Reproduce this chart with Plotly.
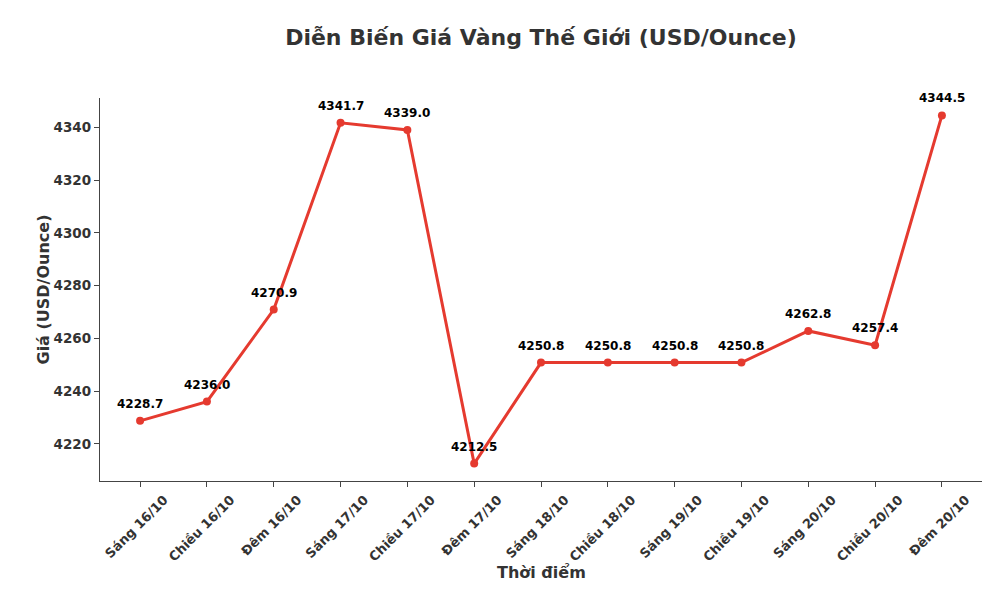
import plotly.graph_objects as go

categories = ["Sáng 16/10", "Chiều 16/10", "Đêm 16/10", "Sáng 17/10", "Chiều 17/10", "Đêm 17/10",
              "Sáng 18/10", "Chiều 18/10", "Sáng 19/10", "Chiều 19/10", "Sáng 20/10", "Chiều 20/10", "Đêm 20/10"]
prices = [4228.7, 4236.0, 4270.9, 4341.7, 4339.0, 4212.5,
          4250.8, 4250.8, 4250.8, 4250.8, 4262.8, 4257.4, 4344.5]
y_ticks = [4220, 4240, 4260, 4280, 4300, 4320, 4340]

FONT = "DejaVu Sans"
RED = "#e53a2f"
DARK = "#333333"

# page has an 8px body margin; figure is sized to fill the rest of the window
W, H = 992, 582

xs = list(range(len(categories)))
fig = go.Figure()
fig.add_trace(go.Scatter(
    x=xs, y=prices, mode="lines+markers",
    line=dict(color=RED, width=3),
    marker=dict(color=RED, size=8),
    hoverinfo="x+y",
))

for x, v in zip(xs, prices):
    fig.add_annotation(x=x, y=v, text=f"<b>{v:.1f}</b>", showarrow=False,
                       yshift=17, font=dict(family=FONT, size=12, color="black"))

# axis titles
fig.add_annotation(xref="paper", yref="paper", x=0.5, y=0, yanchor="middle", yshift=-91,
                   text="<b>Thời điểm</b>", showarrow=False,
                   font=dict(family=FONT, size=16, color=DARK))
fig.add_annotation(xref="paper", yref="paper", x=0, y=0.5, xanchor="center", xshift=-57,
                   text="<b>Giá (USD/Ounce)</b>", showarrow=False, textangle=-90,
                   font=dict(family=FONT, size=16, color=DARK))

lo, hi = min(prices), max(prices)
pad = (hi - lo) * 0.05
n = len(categories)

fig.update_layout(
    width=W, height=H,
    paper_bgcolor="white", plot_bgcolor="white",
    margin=dict(l=92, r=18, t=90, b=109),
    showlegend=False,
    title=dict(text="<b>Diễn Biến Giá Vàng Thế Giới (USD/Ounce)</b>",
               x=533 / W, xanchor="center", y=1 - 29 / H, yanchor="middle",
               font=dict(family=FONT, size=22, color=DARK)),
    font=dict(family=FONT, color=DARK),
)
fig.update_xaxes(
    automargin=False,
    range=[-0.6, n - 1 + 0.6],
    tickmode="array", tickvals=xs,
    ticktext=[f"<b>{c}</b>" for c in categories],
    tickangle=-45, tickfont=dict(family=FONT, size=13, color=DARK),
    ticklabelshift=24,
    ticks="outside", ticklen=5, tickcolor="#444", tickwidth=1,
    showline=True, linecolor="#444", linewidth=1.3,
    showgrid=False, zeroline=False,
)
fig.update_yaxes(
    automargin=False,
    range=[lo - pad, hi + pad],
    tickmode="array", tickvals=y_ticks,
    ticktext=[f"<b>{t}</b>" for t in y_ticks],
    tickfont=dict(family=FONT, size=13.5, color=DARK),
    ticks="outside", ticklen=5, tickcolor="#444", tickwidth=1,
    showline=True, linecolor="#444", linewidth=1.3,
    showgrid=False, zeroline=False,
)

fig.write_html("out.html")
